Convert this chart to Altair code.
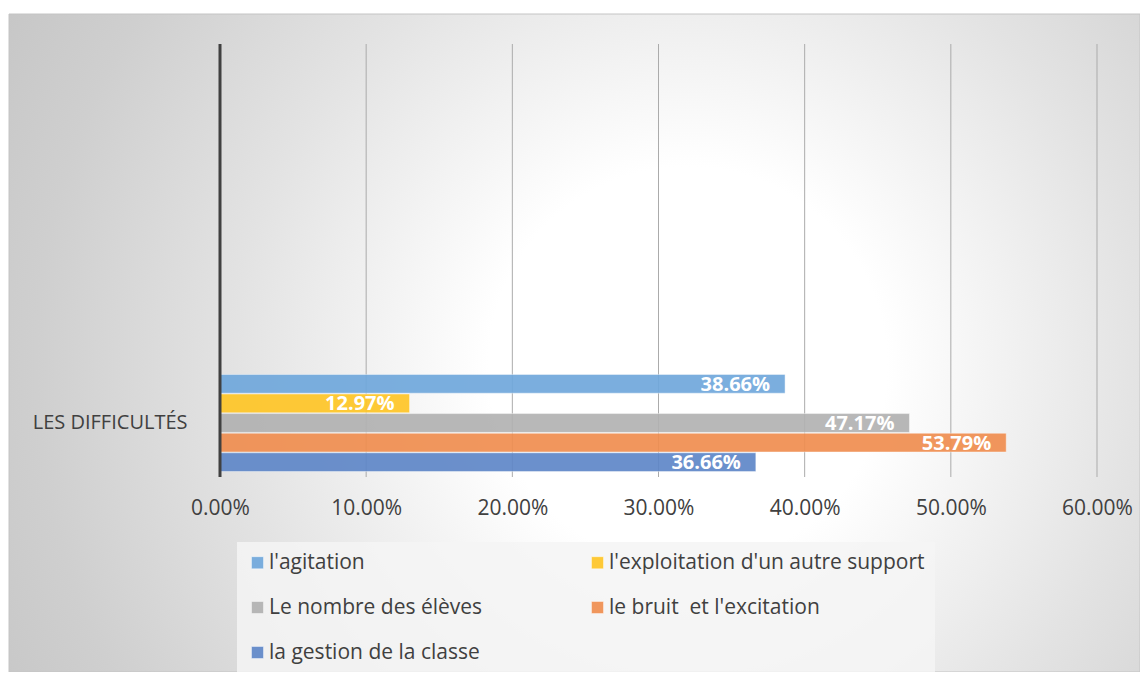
import altair as alt
import pandas as pd

category = "LES DIFFICULTÉS"
series = [
    "l'agitation",
    "l'exploitation d'un autre support",
    "Le nombre des élèves",
    "le bruit\u00a0 et l'excitation",
    "la gestion de la classe",
]
values = [0.3866, 0.1297, 0.4717, 0.5379, 0.3666]
colors = ["#70A8DC", "#FFC627", "#B2B2B2", "#F08E50", "#5F87C8"]
x_ticks = [0.0, 0.1, 0.2, 0.3, 0.4, 0.5, 0.6]
# legend is filled column by column: reorder so that it reads row by row
legend_order = [0, 2, 4, 1, 3]

df = pd.DataFrame({"cat": [category] * len(series), "serie": series, "val": values})
grid_df = pd.DataFrame({"t": x_ticks[1:]})
zero_df = pd.DataFrame({"t": x_ticks[:1]})
bg_df = pd.DataFrame({"k": [0]})

W, H = 877, 433

xscale = alt.Scale(domain=[0, 0.6], nice=False, zero=True)
yscale = alt.Scale(domain=[category], range=[330, 428], paddingInner=0, paddingOuter=0)
yoff = alt.Scale(domain=series, paddingInner=0.04, paddingOuter=0.02)
cscale = alt.Scale(domain=[series[i] for i in legend_order], range=[colors[i] for i in legend_order])

gradient = {
    "gradient": "radial",
    "x1": 0.6, "y1": 0.52, "r1": 0,
    "x2": 0.6, "y2": 0.52, "r2": 0.8,
    "stops": [
        {"offset": 0, "color": "#ffffff"},
        {"offset": 0.22, "color": "#ffffff"},
        {"offset": 0.5, "color": "#e3e3e3"},
        {"offset": 0.72, "color": "#cfcfcf"},
        {"offset": 1, "color": "#bdbdbd"},
    ],
}

bg = alt.Chart(bg_df).mark_rect(clip=False, fill=gradient, stroke="#c4c4c4", strokeWidth=1).encode(
    x=alt.value(-211), x2=alt.value(920), y=alt.value(-30), y2=alt.value(628)
)

rules = alt.Chart(grid_df).mark_rule(color="#ababab", strokeWidth=1).encode(
    x=alt.X("t:Q", scale=xscale)
)

zero_rule = alt.Chart(zero_df).mark_rule(color="#404040", strokeWidth=3).encode(
    x=alt.X("t:Q", scale=xscale)
)

x_axis = alt.Axis(values=x_ticks, format=".2%", grid=False, domain=False, ticks=False,
                  labelPadding=20, labelFontSize=21, labelColor="#404040", title=None,
                  zindex=1, labelFlush=False, labelOverlap=False, labelBound=False)
y_axis = alt.Axis(title=None, domain=False, ticks=False,
                  labelPadding=33, labelFontSize=20, labelColor="#404040", zindex=1, grid=False)

bars = alt.Chart(df).mark_bar(opacity=0.92, stroke="white", strokeOpacity=0.45, strokeWidth=1).encode(
    x=alt.X("val:Q", scale=xscale, axis=x_axis),
    y=alt.Y("cat:N", scale=yscale, axis=y_axis),
    yOffset=alt.YOffset("serie:N", scale=yoff, sort=series),
    color=alt.Color(
        "serie:N",
        scale=cscale,
        legend=alt.Legend(
            title=None, orient="none", legendX=17, legendY=498, columns=2,
            columnPadding=104, rowPadding=23, padding=10,
            fillColor="rgba(245,245,245,0.85)", symbolType="square", symbolSize=150,
            symbolStrokeWidth=1, symbolStrokeColor="rgba(255,255,255,0.6)",
            labelFontSize=21, labelColor="#404040", labelOffset=1, labelLimit=400,
            labelFont="Open Sans",
        ),
    ),
)

labels = alt.Chart(df).mark_text(
    align="right", baseline="middle", dx=-15, dy=1, color="white", fontWeight="bold", fontSize=20
).encode(
    x=alt.X("val:Q", scale=xscale),
    y=alt.Y("cat:N", scale=yscale),
    yOffset=alt.YOffset("serie:N", scale=yoff, sort=series),
    text=alt.Text("val:Q", format=".2%"),
)

chart = (
    alt.layer(bg, rules, bars, zero_rule, labels)
    .properties(
        width=W, height=H,
        padding={"left": 212, "top": 36, "right": 43, "bottom": 195},
        autosize=alt.AutoSizeParams(type="none"),
    )
    .configure(font="Open Sans", background="white")
    .configure_view(stroke=None)
)

chart.save("out.html", embed_options={"renderer": "svg", "actions": False})
